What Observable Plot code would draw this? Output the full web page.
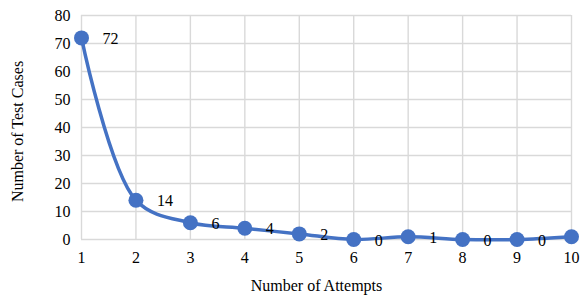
<!DOCTYPE html>
<html>
<head>
<meta charset="utf-8">
<script src="https://cdn.jsdelivr.net/npm/d3@7"></script>
<script src="https://cdn.jsdelivr.net/npm/@observablehq/plot@0.6"></script>
<style>
  html, body { margin: 0; padding: 0; background: #fff; overflow: hidden; }
</style>
</head>
<body>
<div id="chart"></div>
<script>
const attempts = [1, 2, 3, 4, 5, 6, 7, 8, 9, 10];
const testCases = [72, 14, 6, 4, 2, 0, 1, 0, 0, 1];
const xTicks = [1, 2, 3, 4, 5, 6, 7, 8, 9, 10];
const yTicks = [0, 10, 20, 30, 40, 50, 60, 70, 80];
const xTitle = "Number of Attempts";
const yTitle = "Number of Test Cases";

const data = attempts.map((a, i) => ({ attempt: a, cases: testCases[i] }));
const blue = "#4472C4";
const font = "'Liberation Serif', 'Times New Roman', serif";

const chart = Plot.plot({
  width: 586,
  height: 301,
  marginLeft: 81,
  marginRight: 15,
  marginTop: 15,
  marginBottom: 62,
  style: { fontFamily: font, fontSize: "16px", color: "#000", background: "#fff" },
  x: { domain: [1, 10], ticks: xTicks, tickSize: 0, tickPadding: 12, label: null, tickFormat: d => String(d) },
  y: { domain: [0, 80], ticks: yTicks, tickSize: 0, tickPadding: 11, label: null, tickFormat: d => String(d) },
  marks: [
    Plot.ruleX(xTicks, { stroke: "#d9d9d9", strokeWidth: 1.4 }),
    Plot.ruleY(yTicks, { stroke: "#d9d9d9", strokeWidth: 1.4 }),
    Plot.line(data, { x: "attempt", y: "cases", stroke: blue, strokeWidth: 3.5, curve: "catmull-rom" }),
    Plot.dot(data, { x: "attempt", y: "cases", r: 7.5, fill: blue, stroke: "none" }),
    Plot.text(data, { x: "attempt", y: "cases", text: d => String(d.cases), textAnchor: "start", dx: 21, dy: 1, fontSize: 16, fill: "#000" }),
    Plot.text([xTitle], { frameAnchor: "bottom", dx: -10, dy: 51, text: d => d, fontSize: 16, fill: "#000" }),
    Plot.text([yTitle], { frameAnchor: "left", textAnchor: "middle", dx: -64, dy: 4, rotate: -90, text: d => d, fontSize: 16, fill: "#000" })
  ]
});
document.getElementById("chart").appendChild(chart);
</script>
</body>
</html>
